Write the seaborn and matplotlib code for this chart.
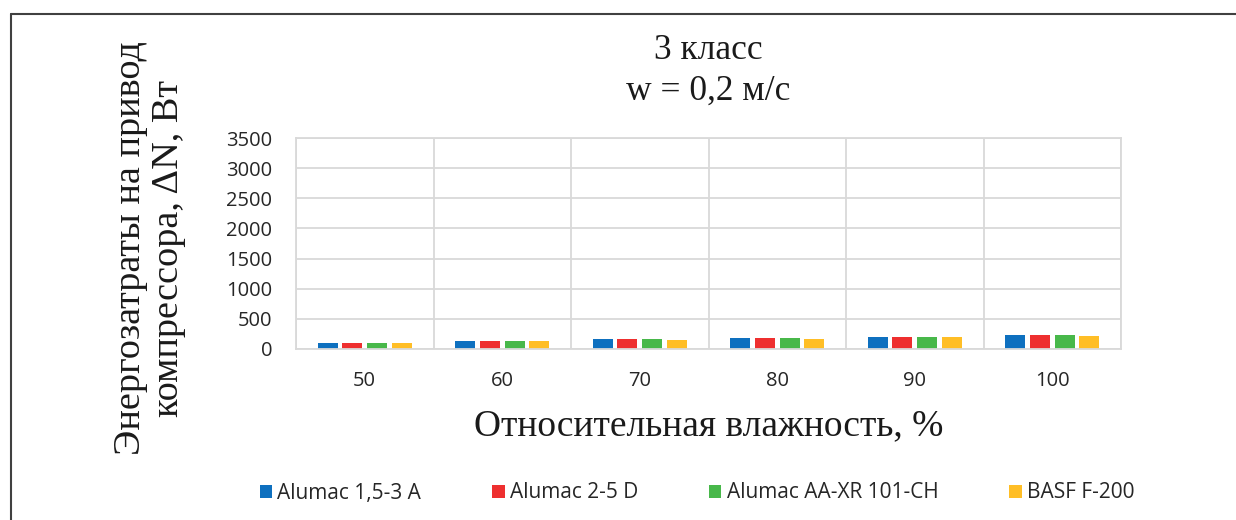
import pandas as pd
import numpy as np
import matplotlib
matplotlib.use('Agg')
import matplotlib.pyplot as plt
from matplotlib.lines import Line2D
import seaborn as sns

# values (Вт)
humidity = ['50', '60', '70', '80', '90', '100']
materials = ['Alumac 1,5-3 A', 'Alumac 2-5 D', 'Alumac AA-XR 101-CH', 'BASF F-200']
alumac_153a = [107, 134, 161, 178, 199, 228]
alumac_25d = [107, 134, 161, 178, 199, 228]
alumac_aaxr = [106, 133, 159, 177, 197, 225]
basf_f200 = [100, 128, 151, 166, 194, 216]
colors = ['#0E70BF', '#EE2F2F', '#48B84A', '#FFBE26']
y_ticks = [0, 500, 1000, 1500, 2000, 2500, 3000, 3500]

df = pd.DataFrame({
    'humidity': humidity * 4,
    'material': np.repeat(materials, len(humidity)),
    'value': alumac_153a + alumac_25d + alumac_aaxr + basf_f200,
})

sns.set_style('white')
plt.rcParams['font.family'] = ['Open Sans', 'DejaVu Sans']
serif = ['Liberation Serif', 'DejaVu Serif']
grid_c = '#D9D9D9'

ax_top, ax_bot = 138, 349
ax_h = ax_bot - ax_top
fig = plt.figure(figsize=(12.36, 5.2), dpi=100)
ax = fig.add_axes([296 / 1236, 1 - ax_bot / 520, 825 / 1236, ax_h / 520])

sns.barplot(data=df, x='humidity', y='value', hue='material', order=humidity,
            hue_order=materials, palette=colors, saturation=1, width=0.72, gap=0.2,
            linewidth=0, errorbar=None, ax=ax)

handles, labels = ax.get_legend_handles_labels()
ax.get_legend().remove()

ax.set_ylim(0, 3500)
ax.set_xlim(-0.5, 5.5)
ax.set_yticks(y_ticks)
ax.set_xticks(np.arange(-0.5, 6, 1), minor=True)
ax.grid(True, axis='y', color=grid_c, linewidth=1.3)
ax.grid(True, axis='x', which='minor', color=grid_c, linewidth=1.3)
ax.grid(False, axis='x', which='major')
ax.set_axisbelow(True)
for s in ax.spines.values():
    s.set_color(grid_c)
    s.set_linewidth(1.3)
ax.tick_params(axis='both', which='both', length=0, labelsize=14.5, colors='#262626')
ax.tick_params(axis='y', pad=17)
ax.tick_params(axis='x', pad=16)

ax.set_xlabel('Относительная влажность, %', family=serif, fontsize=27, color='#1a1a1a')
ax.xaxis.set_label_coords(0.5, -(426 - ax_bot) / ax_h)
ax.xaxis.label.set_va('center')
ax.set_ylabel('Энергозатраты на привод\nкомпрессора, ΔN, Вт', family=serif,
              fontsize=27.5, color='#1a1a1a', linespacing=1.12)
ax.yaxis.set_label_coords(-(296 - 186) / 825, 0.5 - 5 / ax_h)

ax.set_title('3 класс\nw = 0,2 м/с', family=serif, fontsize=25.5, color='#1a1a1a',
             y=1 + (ax_top - 79) / ax_h, va='center', linespacing=1.3)

fig.legend(handles, labels, loc='center', bbox_to_anchor=(697 / 1236, 1 - 493 / 520),
           ncol=4, frameon=False, handlelength=0.6, handleheight=0.6,
           handletextpad=0.25, columnspacing=3.4, prop={'family': 'Open Sans', 'size': 15})

# outer frame (left and top edges visible)
fig.add_artist(Line2D([11 / 1236, 11 / 1236], [0, 1 - 14 / 520], color='#404040', lw=1.5))
fig.add_artist(Line2D([11 / 1236, 1], [1 - 14 / 520, 1 - 14 / 520], color='#404040', lw=1.5))

fig.savefig('out.png', dpi=100)
